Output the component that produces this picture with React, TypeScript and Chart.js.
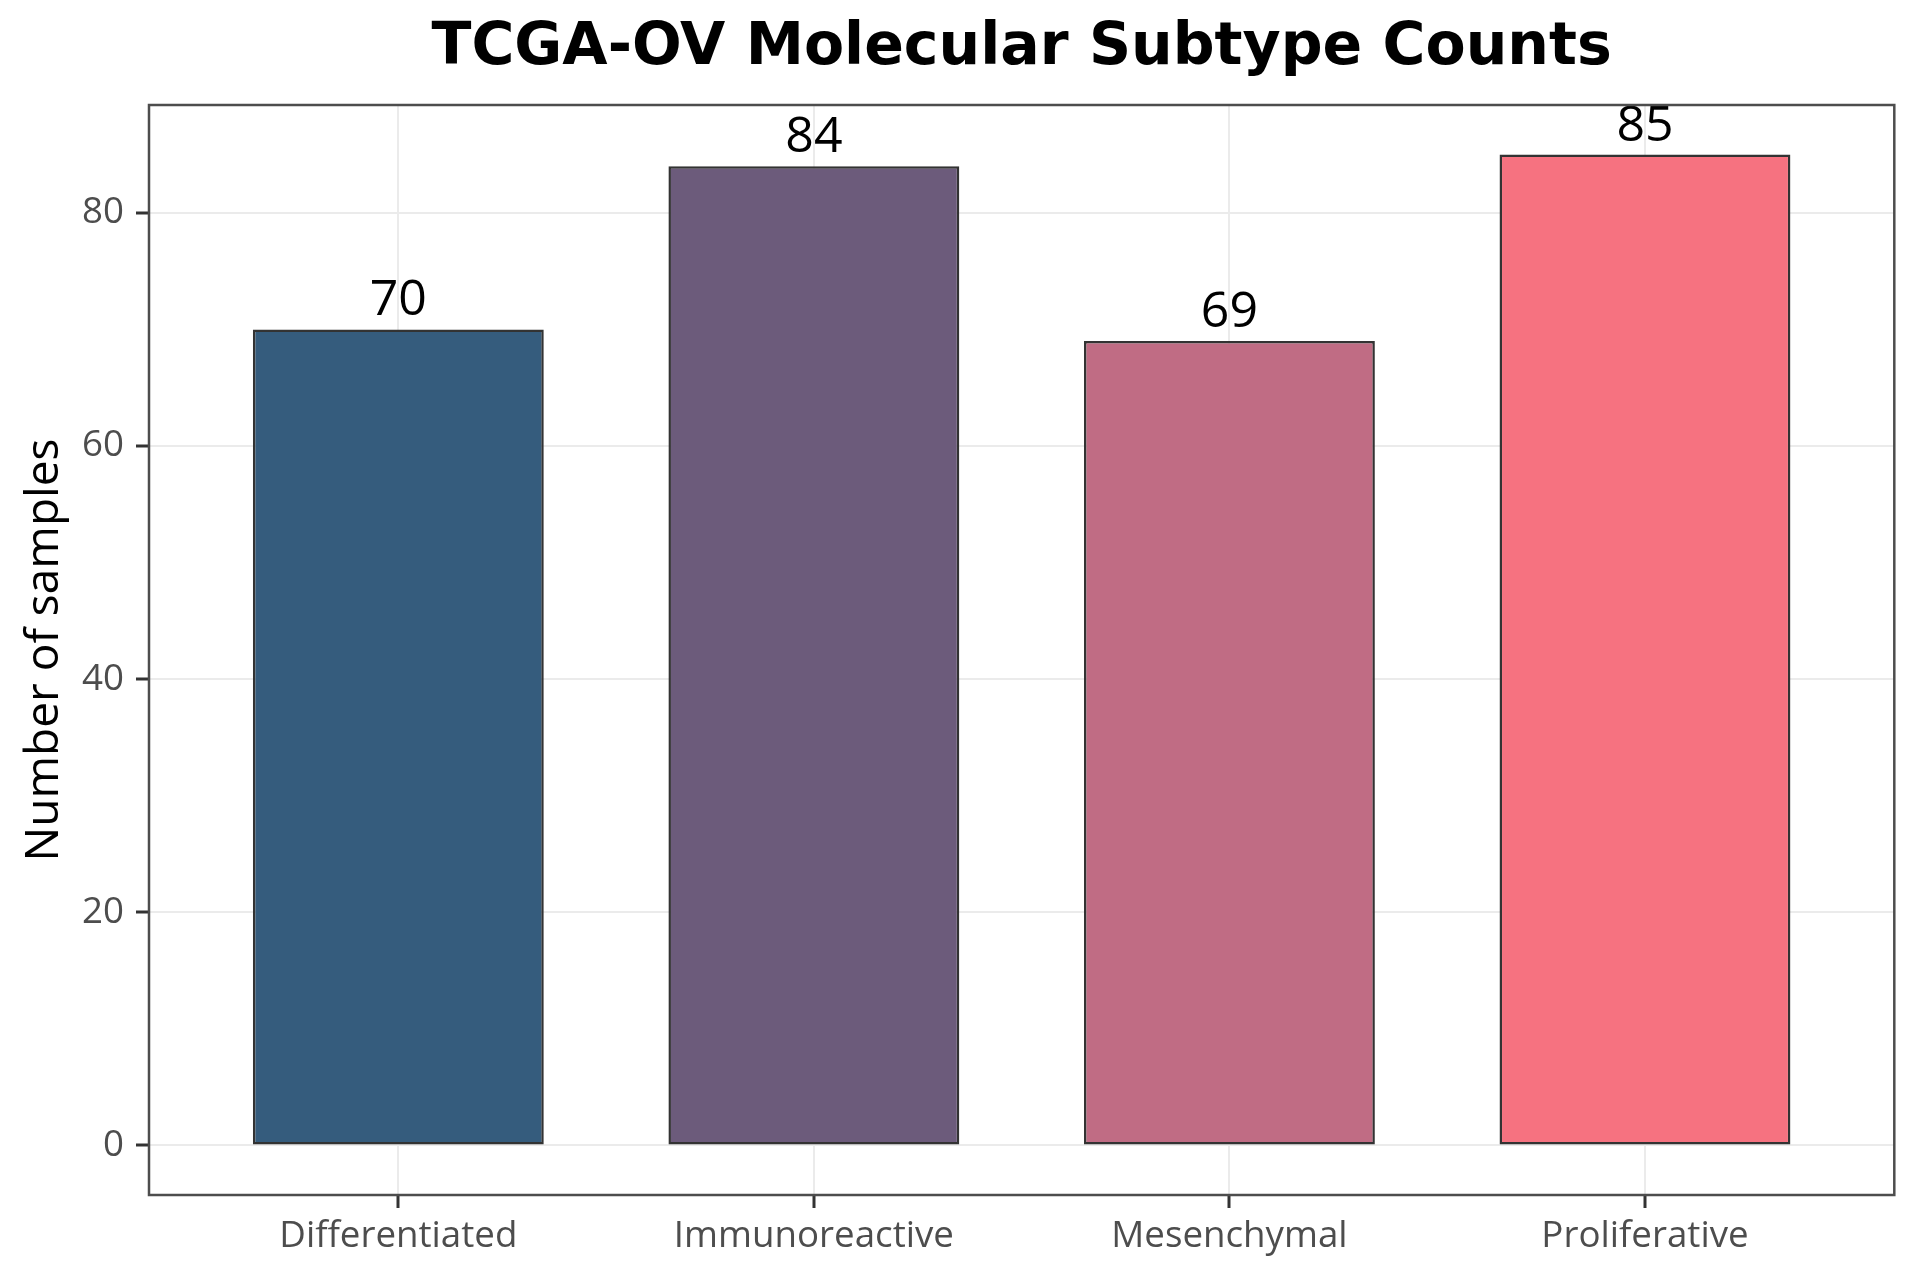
import React, { useEffect, useRef } from "react";
import { Chart, registerables } from "chart.js";

Chart.register(...registerables);

const categories = ["Differentiated", "Immunoreactive", "Mesenchymal", "Proliferative"];
const counts = [70, 84, 69, 85];
const barColors = ["#355C7D", "#6C5B7B", "#C06C84", "#F67280"];
const yTickValues = [0, 20, 40, 60, 80];
const titleText = "TCGA-OV Molecular Subtype Counts";
const yAxisTitle = "Number of samples";

const SANS = "'Open Sans', 'Noto Sans', sans-serif";

const panelBorderAndLabels = {
  id: "panelBorderAndLabels",
  afterDatasetsDraw(chart: any) {
    const ctx = chart.ctx;
    const meta = chart.getDatasetMeta(0);
    ctx.save();
    ctx.fillStyle = "#000000";
    ctx.font = `50px ${SANS}`;
    ctx.textAlign = "center";
    ctx.textBaseline = "alphabetic";
    meta.data.forEach((bar: any, i: number) => {
      ctx.fillText(String(counts[i]), bar.x, bar.y - 14);
    });
    const a = chart.chartArea;
    ctx.strokeStyle = "#4d4d4d";
    ctx.lineWidth = 2.5;
    ctx.strokeRect(a.left, a.top, a.right - a.left, a.bottom - a.top);
    ctx.restore();
  },
};

export default function App() {
  const canvasRef = useRef<HTMLCanvasElement | null>(null);

  useEffect(() => {
    const canvas = canvasRef.current;
    if (!canvas) return;
    const chart = new Chart(canvas, {
      type: "bar",
      data: {
        datasets: [
          {
            data: categories.map((_, i) => ({ x: i + 1, y: counts[i] })),
            backgroundColor: barColors,
            borderColor: "#333333",
            borderWidth: 2.5,
            borderSkipped: false,
            barPercentage: 0.7,
            categoryPercentage: 1,
          },
        ],
      },
      options: {
        responsive: false,
        animation: false,
        devicePixelRatio: 1,
        layout: { padding: { left: 0, right: 25.7, top: 0, bottom: 0 } },
        plugins: {
          legend: { display: false },
          tooltip: { enabled: false },
          title: {
            display: true,
            text: titleText,
            fullSize: false,
            color: "#000000",
            font: { family: "'DejaVu Sans', sans-serif", weight: "bold", size: 58.5 },
            padding: { top: 14, bottom: 20.8 },
          },
        },
        scales: {
          x: {
            type: "linear",
            offset: false,
            min: 0.4,
            max: 4.6,
            afterBuildTicks: (scale: any) => {
              scale.ticks = categories.map((_, i) => ({ value: i + 1 }));
            },
            afterFit: (scale: any) => {
              scale.height = 85;
            },
            ticks: {
              autoSkip: false,
              maxRotation: 0,
              minRotation: 0,
              padding: 6.2,
              color: "#4d4d4d",
              font: { family: SANS, size: 36.7 },
              callback: (v: any) => categories[Math.round(Number(v)) - 1] ?? "",
            },
            grid: {
              offset: false,
              color: "#ebebeb",
              lineWidth: 2,
              tickColor: "#333333",
              tickWidth: 3,
              tickLength: 13,
            },
            border: { display: false },
          },
          y: {
            type: "linear",
            min: -4.25,
            max: 89.25,
            afterBuildTicks: (scale: any) => {
              scale.ticks = yTickValues.map((v) => ({ value: v }));
            },
            afterFit: (scale: any) => {
              scale.width = 149;
            },
            ticks: {
              padding: 12,
              color: "#4d4d4d",
              font: { family: SANS, size: 36.7 },
              callback: (v: any) => String(v),
            },
            grid: {
              color: "#ebebeb",
              lineWidth: 2,
              tickColor: "#333333",
              tickWidth: 3,
              tickLength: 13,
            },
            border: { display: false },
            title: {
              display: true,
              text: yAxisTitle,
              color: "#000000",
              font: { family: SANS, size: 46 },
              padding: { top: 17.4, bottom: 0 },
            },
          },
        },
      },
      plugins: [panelBorderAndLabels],
    } as any);
    return () => chart.destroy();
  }, []);

  return (
    <div style={{ position: "absolute", left: 0, top: 0, width: 1920, height: 1280, background: "#ffffff" }}>
      <canvas ref={canvasRef} width={1920} height={1280} style={{ display: "block" }} />
    </div>
  );
}
